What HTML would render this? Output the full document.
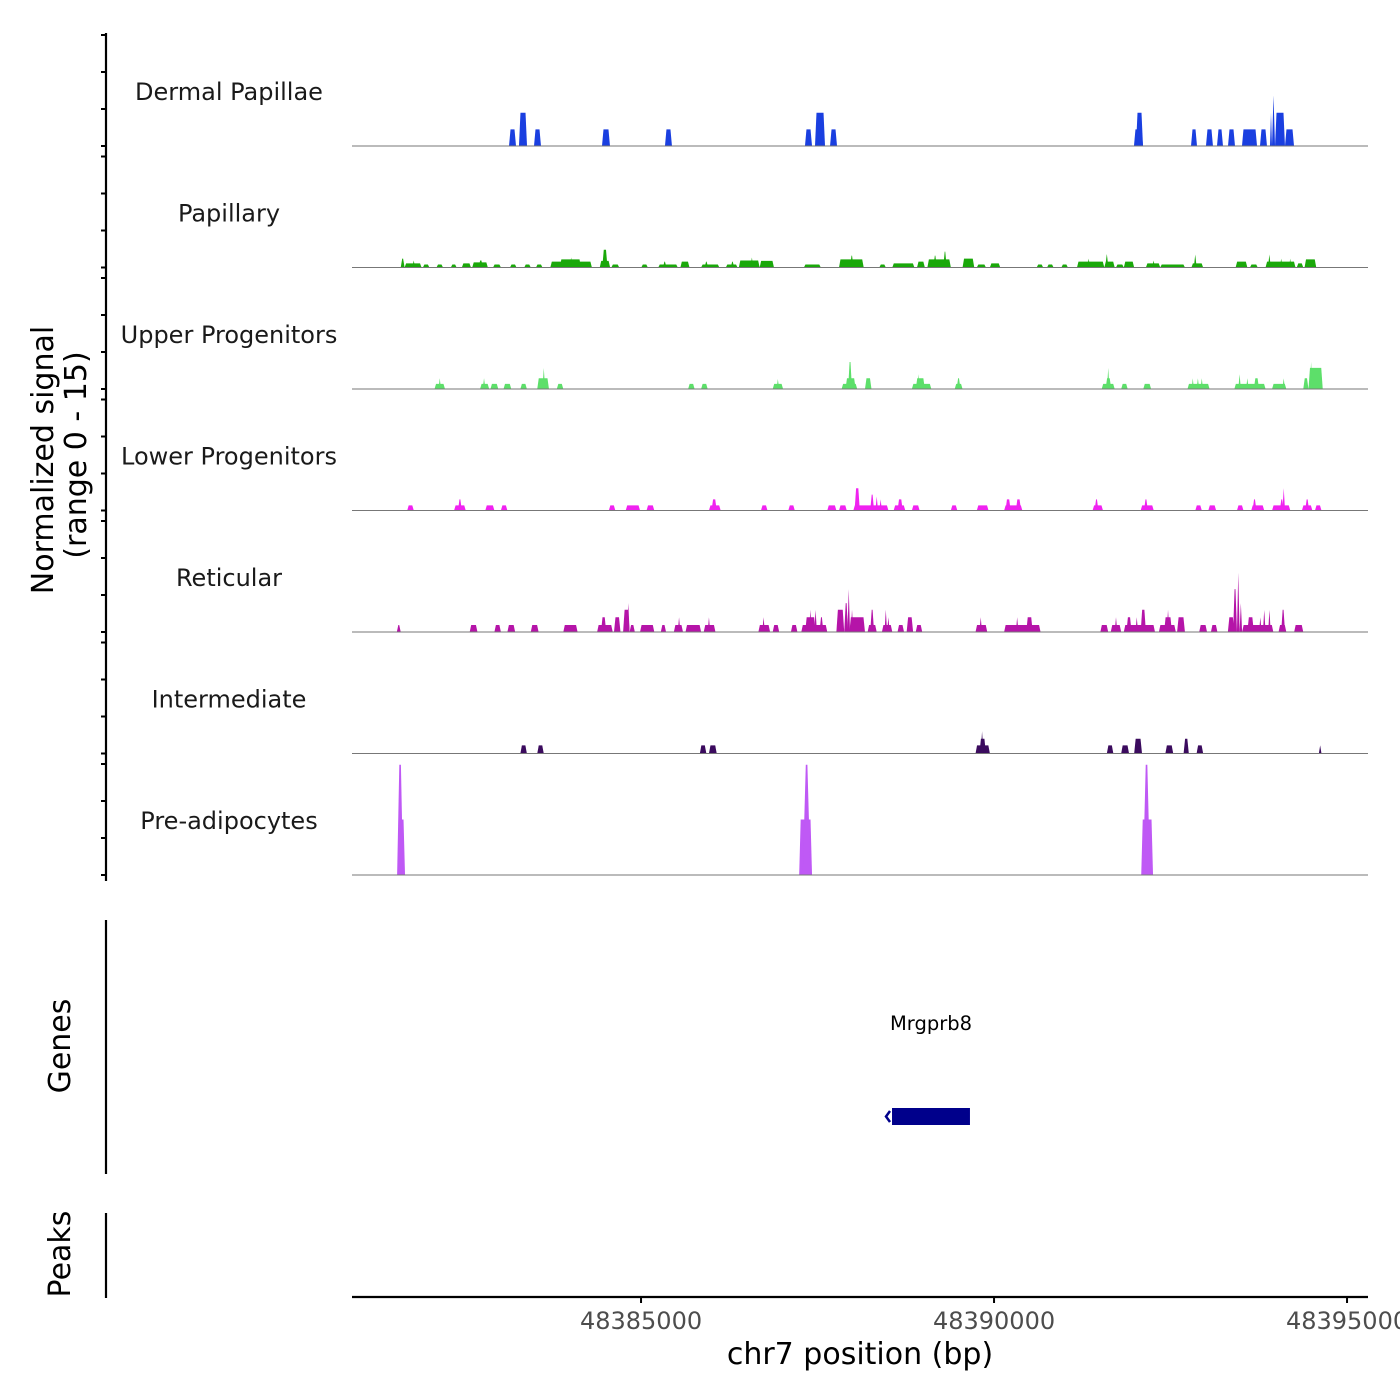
<!DOCTYPE html>
<html><head><meta charset="utf-8"><style>
html,body{margin:0;padding:0;background:#fff;}
svg{display:block;font-family:"DejaVu Sans","Liberation Sans",sans-serif;}
</style></head><body>
<svg id="chart" width="1400" height="1400" viewBox="0 0 1400 1400" xmlns="http://www.w3.org/2000/svg">
<g id="tracks"></g>
<g id="yaxis"></g>
<text transform="translate(53,460) rotate(-90)" text-anchor="middle" font-size="30" fill="#000">Normalized signal</text>
<text transform="translate(86,455) rotate(-90)" text-anchor="middle" font-size="30" fill="#000">(range 0 - 15)</text>
<line x1="106" y1="920" x2="106" y2="1174" stroke="#000" stroke-width="2.2"/>
<text transform="translate(70,1046) rotate(-90)" text-anchor="middle" font-size="30" fill="#000">Genes</text>
<line x1="106" y1="1213" x2="106" y2="1298" stroke="#000" stroke-width="2.2"/>
<text transform="translate(70,1254) rotate(-90)" text-anchor="middle" font-size="30" fill="#000">Peaks</text>
<g id="genes"></g>
<g id="xaxis"></g>
<text x="860" y="1364" text-anchor="middle" font-size="30" fill="#000">chr7 position (bp)</text>
</svg>
<script>
const trackNames = ["Dermal Papillae","Papillary","Upper Progenitors","Lower Progenitors","Reticular","Intermediate","Pre-adipocytes"];
const trackColors = ["#1a3fe0","#1aa80a","#5ddf6a","#f022f0","#b514a8","#3b0b5e","#bf59f5"];
const xTicks = [48385000,48390000,48395000];
const xTickLabels = ["48385000","48390000","48395000"];
const yTicks = [0,5,10,15];
const geneNames = ["Mrgprb8"];
const geneStarts = [48388555];
const geneEnds = [48389659];
// segments: [startBp, endBp, signal]
const dermalPapillae = [[48383130,48383229,2.25],[48383271,48383385,4.5],[48383484,48383583,2.25],[48384447,48384560,2.25],[48385339,48385438,2.25],[48387322,48387422,2.25],[48387464,48387606,4.5],[48387677,48387776,2.25],[48391982,48392110,2.25],[48392011,48392110,4.5],[48392790,48392875,2.25],[48393002,48393101,2.25],[48393158,48393243,2.25],[48393314,48393413,2.25],[48393512,48393725,2.25],[48393767,48393866,2.25],[48393909,48393937,4.5],[48393937,48393980,6.75],[48393980,48394121,4.5],[48394121,48394249,2.25]];
const papillary = [[48381596,48381651,1.2],[48381651,48381891,0.55],[48381760,48381800,0.95],[48381910,48382002,0.4],[48382103,48382195,0.4],[48382306,48382388,0.4],[48382462,48382591,0.55],[48382609,48382830,0.7],[48382700,48382760,0.95],[48382904,48383015,0.4],[48383144,48383236,0.4],[48383346,48383438,0.4],[48383512,48383604,0.4],[48383715,48384304,0.8],[48383850,48384150,1.1],[48383990,48384030,1.35],[48384415,48384562,0.9],[48384451,48384525,2.4],[48384580,48384691,0.4],[48385004,48385096,0.4],[48385244,48385520,0.4],[48385310,48385360,0.8],[48385557,48385686,0.8],[48385851,48386109,0.4],[48385900,48385950,0.8],[48386201,48386367,0.4],[48386270,48386320,0.8],[48386385,48386680,0.95],[48386550,48386590,1.35],[48386680,48386883,0.9],[48387307,48387546,0.4],[48387804,48388154,1.1],[48387960,48388010,1.6],[48388375,48388467,0.4],[48388559,48388872,0.55],[48388909,48389020,0.8],[48389056,48389388,1.1],[48389140,48389190,1.6],[48389280,48389330,2.15],[48389554,48389720,1.2],[48389756,48389885,0.4],[48389941,48390088,0.55],[48390604,48390696,0.4],[48390751,48390843,0.4],[48390954,48391046,0.4],[48391175,48391562,0.8],[48391320,48391360,1.2],[48391562,48391709,0.8],[48391575,48391620,1.75],[48391727,48391838,0.4],[48391838,48391985,0.8],[48392151,48392354,0.55],[48392240,48392280,0.95],[48392354,48392704,0.4],[48392796,48392962,0.55],[48392830,48392870,1.75],[48393422,48393588,0.8],[48393625,48393735,0.4],[48393846,48394270,0.8],[48393880,48393920,1.75],[48394050,48394085,1.2],[48394180,48394210,1.2],[48394288,48394380,0.55],[48394398,48394564,1.1]];
const upperProgenitors = [[48382075,48382223,0.7],[48382131,48382167,1.45],[48382720,48382849,0.7],[48382757,48382795,1.45],[48382867,48382978,0.7],[48383052,48383162,0.7],[48383291,48383383,0.7],[48383530,48383696,1.45],[48383604,48383641,2.85],[48383807,48383899,0.7],[48385667,48385759,0.7],[48385851,48385944,0.7],[48386865,48387012,0.7],[48386920,48386956,1.35],[48387841,48388062,0.7],[48387896,48388040,1.45],[48387933,48387988,3.65],[48388172,48388264,1.45],[48388836,48389112,0.7],[48388891,48389020,1.45],[48388910,48388946,2.0],[48389443,48389554,0.7],[48389470,48389525,1.45],[48391525,48391709,0.7],[48391580,48391660,1.45],[48391600,48391635,2.85],[48391801,48391893,0.7],[48392114,48392225,0.7],[48392740,48393053,0.7],[48392800,48392830,1.45],[48392870,48392905,1.45],[48392925,48392960,1.45],[48393404,48393846,0.7],[48393460,48393496,2.0],[48393570,48393606,1.45],[48393680,48393754,1.45],[48393938,48394140,0.7],[48394085,48394121,1.45],[48394380,48394454,1.45],[48394454,48394656,2.85],[48394473,48394509,3.65]];
const lowerProgenitors = [[48381688,48381781,0.7],[48382352,48382517,0.7],[48382407,48382462,1.5],[48382794,48382923,0.7],[48383015,48383107,0.7],[48384544,48384636,0.7],[48384783,48384986,0.7],[48385078,48385188,0.7],[48385962,48386128,0.7],[48385999,48386072,1.5],[48386699,48386791,0.7],[48387086,48387178,0.7],[48387638,48387767,0.7],[48387804,48387914,0.7],[48388007,48388504,0.7],[48388025,48388099,3.0],[48388246,48388301,2.15],[48388320,48388357,1.9],[48388375,48388412,1.5],[48388578,48388743,0.7],[48388633,48388707,1.5],[48388836,48388946,0.7],[48389388,48389480,0.7],[48389756,48389922,0.7],[48390143,48390401,0.7],[48390162,48390236,1.5],[48390309,48390383,1.5],[48391396,48391543,0.7],[48391424,48391479,1.5],[48392077,48392262,0.7],[48392124,48392179,1.5],[48392851,48392943,0.7],[48393035,48393146,0.7],[48393441,48393533,0.7],[48393643,48393827,0.7],[48393662,48393717,1.5],[48393938,48394196,0.7],[48394048,48394103,1.5],[48394085,48394122,3.0],[48394361,48394509,0.7],[48394407,48394463,1.5],[48394546,48394638,0.7]];
const reticular = [[48381541,48381596,0.95],[48382573,48382683,0.95],[48382923,48383015,0.95],[48383107,48383217,0.95],[48383438,48383549,0.95],[48383899,48384101,0.95],[48384378,48384599,0.95],[48384433,48384507,2.0],[48384617,48384709,2.0],[48384746,48384838,3.0],[48384801,48384838,3.9],[48384838,48384912,0.95],[48384986,48385188,0.95],[48385280,48385354,0.95],[48385465,48385594,0.95],[48385520,48385557,2.0],[48385630,48385851,0.95],[48385888,48386054,0.95],[48385944,48385980,2.0],[48386662,48386828,0.95],[48386717,48386754,2.0],[48386865,48386957,0.95],[48387123,48387215,0.95],[48387270,48387638,0.95],[48387325,48387473,2.0],[48387380,48387417,3.0],[48387454,48387491,3.0],[48387528,48387583,2.0],[48387767,48387878,3.0],[48387878,48387933,3.9],[48387924,48387960,5.8],[48387951,48388172,2.0],[48387970,48388007,3.0],[48388209,48388338,0.95],[48388246,48388301,3.0],[48388412,48388559,0.95],[48388449,48388485,3.0],[48388485,48388522,2.0],[48388633,48388725,0.95],[48388762,48388854,2.0],[48388891,48388983,0.95],[48389738,48389904,0.95],[48389793,48389830,2.0],[48390143,48390659,0.95],[48390309,48390346,2.0],[48390456,48390548,2.0],[48391506,48391617,0.95],[48391653,48391801,0.95],[48391709,48391746,2.0],[48391838,48392280,0.95],[48391875,48391948,2.0],[48392003,48392040,2.0],[48392077,48392151,3.0],[48392335,48392575,0.95],[48392409,48392520,2.0],[48392446,48392483,3.0],[48392593,48392704,2.0],[48392906,48393017,0.95],[48393072,48393164,0.95],[48393312,48393404,2.0],[48393386,48393441,5.8],[48393441,48393478,8.0],[48393478,48393514,3.9],[48393514,48393956,0.95],[48393588,48393680,2.0],[48393754,48393790,2.0],[48393809,48393846,3.0],[48393883,48393919,3.0],[48394030,48394140,0.95],[48394067,48394122,3.0],[48394251,48394380,0.95]];
const intermediate = [[48383291,48383383,1.1],[48383530,48383622,1.1],[48385833,48385925,1.1],[48385962,48386072,1.1],[48389738,48389941,1.1],[48389793,48389885,2.0],[48389812,48389849,3.0],[48391598,48391690,1.1],[48391801,48391912,1.1],[48391985,48392096,2.0],[48392427,48392538,1.1],[48392685,48392759,2.0],[48392869,48392962,1.1],[48394601,48394638,1.1]];
const preAdipocytes = [[48381560,48381657,7.5],[48381545,48381630,14.9],[48387240,48387422,7.5],[48387290,48387400,14.9],[48392085,48392252,7.5],[48392110,48392210,14.9]];
const trackData = [dermalPapillae,papillary,upperProgenitors,lowerProgenitors,reticular,intermediate,preAdipocytes];

const NS="http://www.w3.org/2000/svg";
const X0=48380906, X1=48395297, PX0=352, PX1=1368;
function xs(bp){return PX0+(bp-X0)/(X1-X0)*(PX1-PX0);}
const firstBase=146, trackStep=121.5, unitPx=7.4;
function ys(i,v){return firstBase+i*trackStep - v*unitPx;}
function mk(tag,attrs,parent){const e=document.createElementNS(NS,tag);for(const k in attrs)e.setAttribute(k,attrs[k]);parent.appendChild(e);return e;}

const tracks=document.getElementById('tracks');
trackData.forEach((segs,i)=>{
  const g=mk('g',{},tracks);
  
  
  const base=ys(i,0);
  segs.forEach(s=>{
    const x1=xs(s[0]), x2=xs(s[1]), top=ys(i,s[2]);
    let sl=Math.min(1.5,(x2-x1)/2);
    if(i===6 && s[2]>10) sl=(x2-x1)/2-0.8;
    const p=mk('polygon',{points:`${x1},${base} ${x1+sl},${top} ${x2-sl},${top} ${x2},${base}`,fill:trackColors[i]},g);
    
    
  });
  const bl=mk('line',{x1:PX0,x2:PX1,y1:base,y2:base,stroke:'#777','stroke-width':1},g);
  
  
  const t=mk('text',{x:229,y:base-46,'text-anchor':'middle','font-size':24,fill:'#1a1a1a'},g);
  t.textContent=trackNames[i];
  
  
});

const ya=document.getElementById('yaxis');
const al=mk('line',{x1:106,x2:106,y1:33,y2:881,stroke:'#000','stroke-width':2.2},ya);


for(let i=0;i<trackNames.length;i++){
  yTicks.forEach(v=>{
    const y=ys(i,0)-v*37/5;
    const tk=mk('line',{x1:101,x2:106,y1:y,y2:y,stroke:'#000','stroke-width':2},ya);
    
    
  });
}

const ge=document.getElementById('genes');
geneNames.forEach((n,i)=>{
  const x1=xs(geneStarts[i]), x2=xs(geneEnds[i]);
  const r=mk('rect',{x:x1,y:1108,width:x2-x1,height:17,fill:'#00008b'},ge);
  
  
  const a=mk('path',{d:`M${x1-2},1111 L${x1-6},1116.5 L${x1-2},1122`,stroke:'#00008b','stroke-width':2.5,fill:'none'},ge);
  
  
  const t=mk('text',{x:(x1+x2)/2,y:1030,'text-anchor':'middle','font-size':19.5,fill:'#000'},ge);
  t.textContent=n;
  
  
});

const xa=document.getElementById('xaxis');
const xl=mk('line',{x1:PX0,x2:PX1,y1:1297,y2:1297,stroke:'#000','stroke-width':2.2},xa);


xTicks.forEach((v,i)=>{
  const x=xs(v);
  const tk=mk('line',{x1:x,x2:x,y1:1297,y2:1303,stroke:'#000','stroke-width':2},xa);
  
  
  const t=mk('text',{x:x,y:1329,'text-anchor':'middle','font-size':24,fill:'#4d4d4d'},xa);
  t.textContent=xTickLabels[i];
  
  
});
</script>
</body></html>
